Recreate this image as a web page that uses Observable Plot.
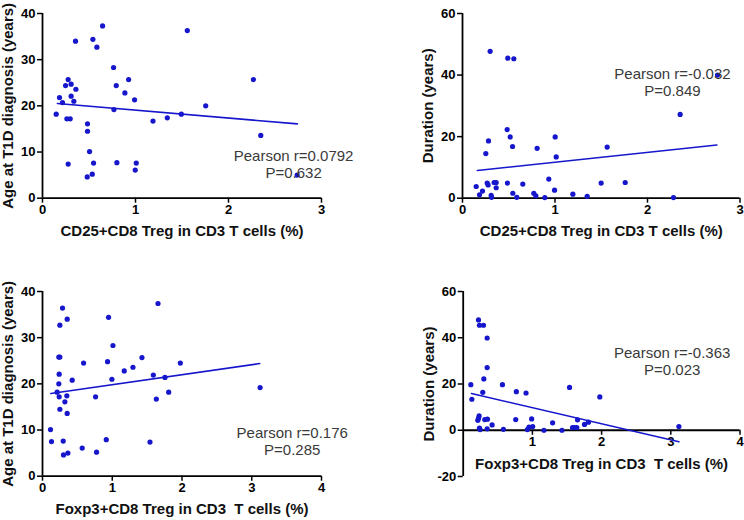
<!DOCTYPE html>
<html>
<head>
<meta charset="utf-8">
<script src="https://cdn.jsdelivr.net/npm/d3@7"></script>
<script src="https://cdn.jsdelivr.net/npm/@observablehq/plot@0.6"></script>
<style>
  html, body { margin: 0; padding: 0; background: #fff; }
  #wrap { position: relative; width: 744px; height: 520px; overflow: hidden; background: #fff; }
  .panel { position: absolute; width: 372px; height: 260px; }
</style>
</head>
<body>
<div id="wrap"></div>
<script>
// ---------- Data ----------
// Panel A: CD25+CD8 Treg (%) vs age at T1D diagnosis
const cd25PctAge = [0.147,0.183,0.215,0.248,0.276,0.308,0.308,0.337,0.359,0.355,0.262,0.298,0.276,0.484,0.484,0.506,0.481,0.535,0.549,0.542,0.585,0.646,0.764,0.768,0.793,0.800,0.886,0.926,0.990,0.997,1.008,1.188,1.342,1.493,1.557,1.755,2.268,2.347,2.738];
const ageVsCd25   = [18.2,21.8,20.7,24.4,25.7,24.7,22.1,21.0,23.6,34.0,17.2,17.2,7.4,16.1,14.5,10.1,4.6,5.2,7.6,34.4,32.7,37.3,28.3,19.2,24.4,7.7,22.8,25.7,21.3,6.1,7.6,16.7,17.4,18.2,36.3,20.0,25.7,13.6,5.0];

// Panel B: CD25+CD8 Treg (%) vs duration
const cd25PctDur = [0.148,0.184,0.216,0.252,0.267,0.277,0.281,0.299,0.310,0.314,0.342,0.364,0.364,0.483,0.486,0.490,0.515,0.541,0.544,0.555,0.587,0.652,0.771,0.793,0.807,0.890,0.933,0.995,1.002,1.013,1.193,1.348,1.499,1.564,1.759,2.281,2.353,2.757];
const durVsCd25  = [3.8,1.1,2.3,14.5,4.9,4.3,18.6,47.7,0.9,0.3,5.1,5.1,3.4,22.3,4.9,45.5,19.9,16.8,1.6,45.3,0.3,4.6,1.6,0.8,16.2,0.2,6.2,2.6,19.9,13.4,1.3,0.6,4.9,16.6,5.1,0.2,27.2,40.0];

// Panel C: Foxp3+CD8 Treg (%) vs age at T1D diagnosis
const foxp3PctAge = [0.115,0.129,0.210,0.234,0.239,0.234,0.249,0.249,0.239,0.249,0.287,0.297,0.301,0.321,0.349,0.354,0.354,0.364,0.426,0.589,0.569,0.761,0.775,0.914,0.933,0.947,0.995,1.010,1.172,1.297,1.426,1.541,1.589,1.632,1.656,1.756,1.809,1.976,3.120];
const ageVsFoxp3  = [10.1,7.5,18.2,20.0,22.1,25.8,25.8,32.7,17.2,14.5,36.4,7.6,4.6,16.1,17.4,34.0,13.6,5.0,20.8,24.5,6.1,17.2,5.2,7.9,24.8,34.4,21.0,28.3,22.8,23.6,25.7,7.4,21.9,16.7,37.4,21.4,18.2,24.5,19.2];

// Panel D: Foxp3+CD8 Treg (%) vs duration
const foxp3PctDur = [0.110,0.125,0.221,0.235,0.293,0.346,0.346,0.298,0.283,0.230,0.221,0.211,0.312,0.350,0.235,0.245,0.346,0.418,0.567,0.581,0.768,0.759,0.908,0.927,0.951,0.989,1.004,1.167,1.292,1.427,1.537,1.580,1.604,1.642,1.652,1.753,1.810,1.974,3.117];
const durVsFoxp3  = [19.7,13.4,47.7,45.4,45.4,39.9,27.1,22.2,16.4,6.2,5.2,4.3,4.6,4.8,0.9,0.3,0.6,2.3,19.7,0.4,16.7,4.6,16.1,0.3,1.4,4.9,1.6,0.0,3.2,0.0,18.5,1.2,1.2,1.2,4.5,2.5,3.5,14.4,1.6];

// Fitted regression line end points
const fitAX = [0.16, 2.74],  fitAY = [20.5, 16.1];
const fitBX = [0.16, 2.75],  fitBY = [9.0, 17.3];
const fitCX = [0.12, 3.115], fitCY = [17.9, 24.4];
const fitDX = [0.12, 3.117], fitDY = [15.9, -5.0];

// Statistics text
const statsA = ["Pearson r=0.0792", "P=0.632"];
const statsB = ["Pearson r=-0.032", "P=0.849"];
const statsC = ["Pearson r=0.176", "P=0.285"];
const statsD = ["Pearson r=-0.363", "P=0.023"];

// Axis titles and ticks
const xTitleCd25  = "CD25+CD8 Treg in CD3 T cells (%)";
const xTitleFoxp3 = "Foxp3+CD8 Treg in CD3  T cells (%)";
const yTitleAge   = "Age at T1D diagnosis (years)";
const yTitleDur   = "Duration (years)";
const xTicksCd25  = [0, 1, 2, 3];
const xTicksFoxp3 = [0, 1, 2, 3, 4];
const xTicksFoxp3Dur = [1, 2, 3, 4];
const yTicksAge   = [0, 10, 20, 30, 40];
const yTicksDurTop = [0, 20, 40, 60];
const yTicksDurBottom = [-20, 0, 20, 40, 60];

// ---------- Drawing ----------
const FONT = "Arial, 'Liberation Sans', Helvetica, sans-serif";
const BLUE = "#1616cc";

function panel(cfg) {
  const W = 372, H = 260;
  const points = cfg.xs.map((x, i) => ({x, y: cfg.ys[i]}));
  const fit = cfg.fitX.map((x, i) => ({x, y: cfg.fitY[i]}));
  const innerH = H - cfg.mt - cfg.mb;
  // x axis sits at y = 0
  const y0 = cfg.yDomain[0];
  const axisDy = -((0 - y0) / (cfg.yDomain[1] - y0)) * innerH;
  const chart = Plot.plot({
    width: W, height: H,
    marginLeft: cfg.ml, marginRight: cfg.mr, marginTop: cfg.mt, marginBottom: cfg.mb,
    x: {domain: cfg.xDomain},
    y: {domain: cfg.yDomain},
    style: {fontFamily: FONT, background: "transparent", color: "#000"},
    marks: [
      Plot.axisY({ticks: cfg.yTicks, tickFormat: d => String(d), tickSize: 5, tickPadding: 2,
        fontSize: 13, fontWeight: "bold", strokeWidth: 1.5, label: null}),
      Plot.axisX({ticks: cfg.xTicks, tickFormat: d => String(d), tickSize: 5, tickPadding: 2,
        fontSize: 13, fontWeight: "bold", strokeWidth: 1.5, label: null, dy: axisDy}),
      Plot.ruleX([0], {stroke: "#000", strokeWidth: 1.8}),
      Plot.ruleY([0], {stroke: "#000", strokeWidth: 1.8}),
      Plot.line(fit, {x: "x", y: "y", stroke: BLUE, strokeWidth: 1.6}),
      Plot.dot(points, {x: "x", y: "y", r: 2.6, fill: BLUE, stroke: "none"}),
      Plot.text([cfg.stats.join("\n")], {x: () => cfg.statX, y: () => cfg.statY, text: d => d,
        fontSize: 15, fill: "#3a3a3a", lineHeight: 1.13, textAnchor: "middle", lineAnchor: "middle"}),
      Plot.text([cfg.xTitle], {frameAnchor: "bottom", dy: cfg.xTitleDy, text: d => d,
        textAnchor: "middle", lineAnchor: "middle",
        fontSize: 15, fontWeight: "bold", fill: "#111"}),
      Plot.text([cfg.yTitle], {frameAnchor: "left", rotate: -90, dx: -34.5, text: d => d,
        textAnchor: "middle", lineAnchor: "middle",
        fontSize: 15, fontWeight: "bold", fill: "#111"})
    ]
  });
  const div = document.createElement("div");
  div.className = "panel";
  div.style.left = cfg.left + "px";
  div.style.top = cfg.top + "px";
  div.appendChild(chart);
  document.getElementById("wrap").appendChild(div);
}

panel({left: 0, top: 0, xs: cd25PctAge, ys: ageVsCd25, fitX: fitAX, fitY: fitAY,
  xDomain: [0, 3], yDomain: [0, 40], xTicks: xTicksCd25, yTicks: yTicksAge,
  ml: 42, mr: 51, mt: 13, mb: 62.3, stats: statsA, statX: 2.7, statY: 7.3,
  xTitle: xTitleCd25, yTitle: yTitleAge, xTitleDy: 33});

panel({left: 372, top: 0, xs: cd25PctDur, ys: durVsCd25, fitX: fitBX, fitY: fitBY,
  xDomain: [0, 3], yDomain: [0, 60], xTicks: xTicksCd25, yTicks: yTicksDurTop,
  ml: 90, mr: 4.5, mt: 13, mb: 62.3, stats: statsB, statX: 2.27, statY: 37.6,
  xTitle: xTitleCd25, yTitle: yTitleDur, xTitleDy: 32.5});

panel({left: 0, top: 260, xs: foxp3PctAge, ys: ageVsFoxp3, fitX: fitCX, fitY: fitCY,
  xDomain: [0, 4], yDomain: [0, 40], xTicks: xTicksFoxp3, yTicks: yTicksAge,
  ml: 42, mr: 51, mt: 31, mb: 44.3, stats: statsC, statX: 3.58, statY: 7.6,
  xTitle: xTitleFoxp3, yTitle: yTitleAge, xTitleDy: 32.5});

panel({left: 372, top: 260, xs: foxp3PctDur, ys: durVsFoxp3, fitX: fitDX, fitY: fitDY,
  xDomain: [0, 4], yDomain: [-20, 60], xTicks: xTicksFoxp3Dur, yTicks: yTicksDurBottom,
  ml: 90.7, mr: 4.5, mt: 31, mb: 44, stats: statsD, statX: 3.02, statY: 30.0,
  xTitle: xTitleFoxp3, yTitle: yTitleDur, xTitleDy: -12});
</script>
</body>
</html>
